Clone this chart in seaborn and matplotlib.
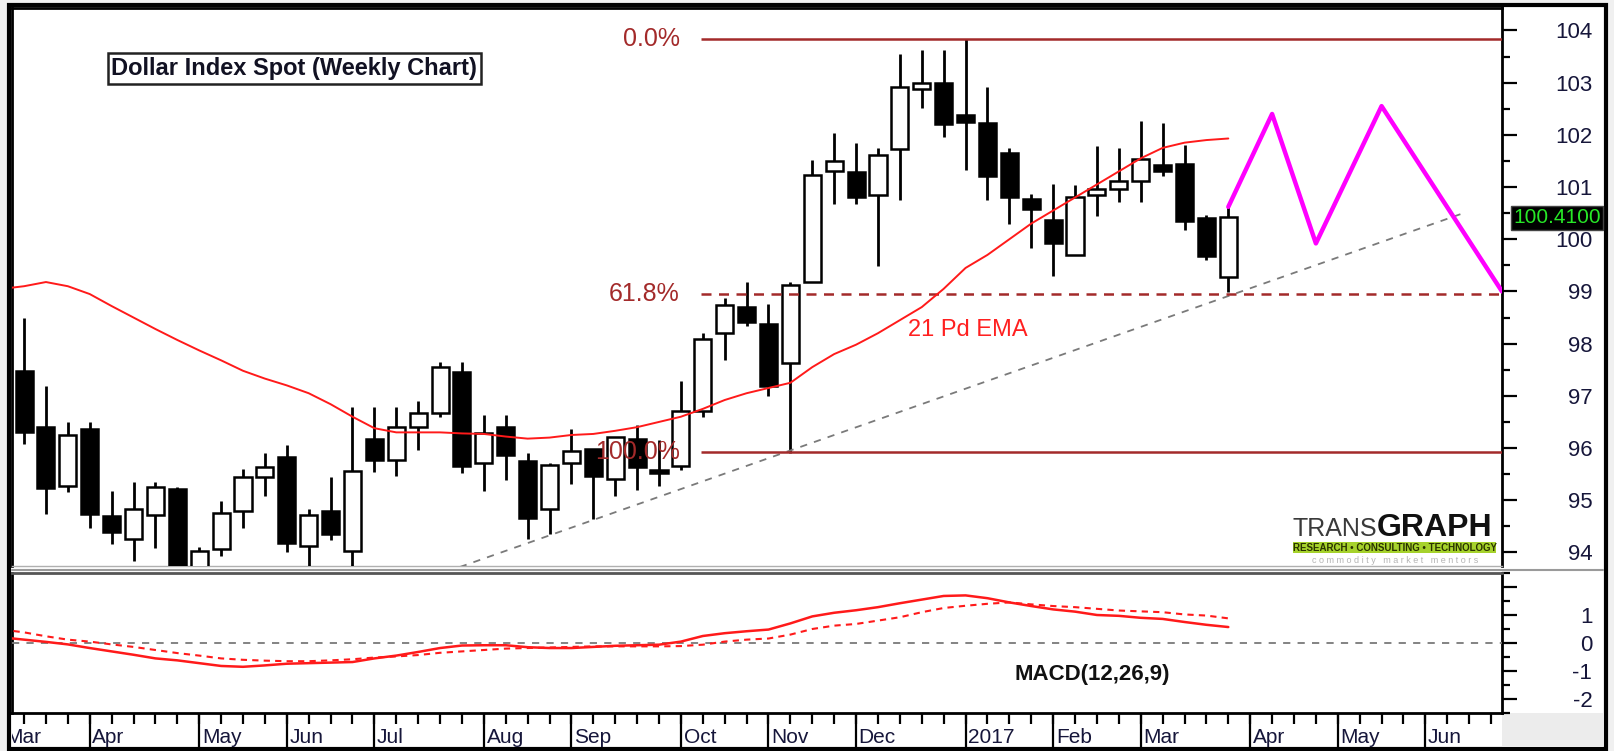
import numpy as np
import pandas as pd
import matplotlib
matplotlib.use("Agg")
import matplotlib.pyplot as plt
import matplotlib.transforms as mtransforms
from matplotlib.patches import Rectangle
from matplotlib.lines import Line2D
from matplotlib.ticker import MultipleLocator
import seaborn as sns

sns.set_theme(style="white")
plt.rcParams["font.family"] = ["Liberation Sans", "DejaVu Sans"]

W, H = 1615, 751

# weekly candles, week 0 = 7 Mar 2016
opens = [97.48, 96.41, 95.28, 96.37, 94.69, 94.25, 94.71, 95.21, 93.05, 94.06,
         94.80, 95.44, 95.83, 94.13, 94.80, 94.02, 96.17, 95.77, 96.41, 96.67,
         97.45, 95.71, 96.41, 95.75, 94.83, 95.71, 95.98, 95.40, 96.17, 95.56,
         95.66, 96.70, 98.20, 98.71, 98.37, 97.62, 99.19, 101.31, 101.28, 100.85,
         101.72, 102.87, 103.00, 102.38, 102.23, 101.66, 100.77, 100.36, 99.69, 100.85,
         100.96, 101.12, 101.42, 101.44, 100.40, 99.28]
highs = [98.49, 97.18, 96.49, 96.49, 95.18, 95.34, 95.34, 95.25, 94.11, 94.99,
         95.60, 95.91, 96.06, 94.83, 95.45, 96.79, 96.79, 96.79, 96.91, 97.64,
         97.64, 96.63, 96.63, 95.90, 95.71, 96.37, 95.98, 96.22, 96.44, 96.15,
         97.29, 98.21, 98.87, 99.19, 98.76, 99.19, 101.51, 102.04, 101.85, 101.74,
         103.55, 103.63, 103.63, 103.83, 102.92, 101.74, 100.86, 101.06, 101.04, 101.79,
         101.74, 102.27, 102.23, 101.81, 100.47, 100.61]
lows = [96.08, 94.73, 95.16, 94.46, 94.16, 93.83, 94.09, 92.98, 91.92, 93.93,
        94.46, 95.08, 94.00, 93.45, 94.24, 93.50, 95.54, 95.47, 95.96, 96.59,
        95.52, 95.17, 95.39, 94.25, 94.35, 95.31, 94.64, 95.08, 95.20, 95.27,
        95.58, 96.59, 97.69, 98.34, 97.00, 95.90, 99.19, 100.68, 100.68, 99.49,
        100.75, 102.51, 101.95, 101.33, 100.75, 100.29, 99.83, 99.30, 99.69, 100.45,
        100.72, 100.72, 101.22, 100.18, 99.60, 98.98]
closes = [96.31, 95.23, 96.25, 94.73, 94.39, 94.83, 95.25, 93.05, 94.03, 94.75,
          95.44, 95.63, 94.19, 94.71, 94.35, 95.56, 95.77, 96.40, 96.67, 97.55,
          95.66, 96.28, 95.86, 94.66, 95.68, 95.94, 95.47, 96.22, 95.63, 95.52,
          96.70, 98.08, 98.74, 98.42, 97.19, 99.12, 101.23, 101.50, 100.80, 101.62,
          102.92, 103.00, 102.21, 102.25, 101.22, 100.80, 100.57, 99.92, 100.80, 100.96,
          101.12, 101.53, 101.30, 100.35, 99.68, 100.42]
weeks = np.arange(len(closes))

# indicator lines start one week earlier (clipped at the left edge)
line_weeks = np.arange(-1, len(closes))
ema21 = [99.05, 99.10, 99.18, 99.10, 98.95, 98.72, 98.50, 98.28, 98.07, 97.87,
         97.68, 97.48, 97.33, 97.20, 97.05, 96.84, 96.60, 96.38, 96.30, 96.30,
         96.30, 96.28, 96.27, 96.22, 96.18, 96.20, 96.25, 96.27, 96.33, 96.40,
         96.50, 96.60, 96.75, 96.92, 97.05, 97.15, 97.25, 97.55, 97.80, 97.98,
         98.20, 98.45, 98.70, 99.05, 99.45, 99.70, 100.00, 100.30, 100.55, 100.80,
         101.05, 101.30, 101.55, 101.75, 101.85, 101.90, 101.93]
macd = [0.20, 0.12, 0.04, -0.05, -0.18, -0.30, -0.42, -0.55, -0.62, -0.72,
        -0.82, -0.85, -0.80, -0.74, -0.72, -0.70, -0.68, -0.55, -0.45, -0.32,
        -0.18, -0.09, -0.08, -0.08, -0.15, -0.18, -0.18, -0.14, -0.10, -0.08,
        -0.06, 0.05, 0.25, 0.35, 0.42, 0.48, 0.70, 0.95, 1.08, 1.17,
        1.28, 1.42, 1.55, 1.68, 1.70, 1.60, 1.45, 1.32, 1.20, 1.12,
        1.00, 0.97, 0.90, 0.86, 0.75, 0.65, 0.57]
signal = [0.48, 0.38, 0.24, 0.12, 0.05, -0.05, -0.14, -0.25, -0.36, -0.45,
          -0.55, -0.60, -0.63, -0.65, -0.65, -0.62, -0.58, -0.52, -0.48, -0.43,
          -0.35, -0.30, -0.25, -0.20, -0.18, -0.16, -0.14, -0.12, -0.12, -0.12,
          -0.12, -0.11, -0.06, 0.05, 0.12, 0.16, 0.30, 0.50, 0.62, 0.68,
          0.80, 0.92, 1.10, 1.25, 1.33, 1.40, 1.45, 1.38, 1.32, 1.28,
          1.22, 1.16, 1.13, 1.10, 1.02, 0.98, 0.88]

fib_levels = [103.84, 98.95, 95.93]
fib_labels = ["0.0%", "61.8%", "100.0%"]
fib_start = 30.9

proj_weeks = [55, 57, 59, 62, 67.5]
proj_prices = [100.62, 102.40, 99.92, 102.55, 99.00]

trend_weeks = [19.9, 65.6]
trend_prices = [93.72, 100.48]

month_weeks = [-1, 3, 8, 12, 16, 21, 25, 30, 34, 38, 43, 47, 51, 56, 60, 64]
month_labels = ["Mar", "Apr", "May", "Jun", "Jul", "Aug", "Sep", "Oct", "Nov",
                "Dec", "2017", "Feb", "Mar", "Apr", "May", "Jun"]

price_ticks = list(range(94, 105))
macd_ticks = [-2, -1, 0, 1, 2]
macd_ticklabels = ["-2", "-1", "0", "1", ""]
last_price = 100.41

XLIM = (-0.55, 67.5)
DARK_RED = "#a32a2a"
LABEL_C = "#16163a"


def box(x0, y0, x1, y1):
    return [x0 / W, 1 - y1 / H, (x1 - x0) / W, (y1 - y0) / H]


fig = plt.figure(figsize=(W / 100, H / 100), dpi=100, facecolor="#f0f0f0")
fig.patches.append(Rectangle((9 / W, 1 - 749 / H), 1597 / W, 744 / H,
                             transform=fig.transFigure, facecolor="white",
                             edgecolor="black", lw=3, zorder=-2))
fig.patches.append(Rectangle((1502 / W, 1 - 747 / H), 101 / W, 34 / H,
                             transform=fig.transFigure, facecolor="#ececec",
                             edgecolor="none", zorder=-1))
fig.lines.append(Line2D([12 / W, 1603 / W], [1 - 570 / H, 1 - 570 / H],
                        transform=fig.transFigure, color="#9a9a9a", lw=1.5))

ax = fig.add_axes(box(12, 8, 1502, 566))
ax_m = fig.add_axes(box(12, 573, 1502, 713))
ax_d = fig.add_axes(box(12, 713, 1502, 748))

# ---- price panel ----
df = pd.DataFrame({"week": weeks, "open": opens, "high": highs,
                   "low": lows, "close": closes})
up = df["close"] >= df["open"]
body_lo = df[["open", "close"]].min(axis=1)
body_h = (df["close"] - df["open"]).abs().clip(lower=0.05)

ax.vlines(df["week"], df["low"], df["high"], color="black", lw=2, zorder=3)
ax.bar(df["week"], body_h, bottom=body_lo, width=0.78,
       color=np.where(up, "white", "black"), edgecolor="black", lw=1.8, zorder=4)

ax.plot(trend_weeks, trend_prices, color="#7a7a7a", lw=1.3, dashes=(4, 4), zorder=5)

ema_df = pd.DataFrame({"week": line_weeks, "ema": ema21})
sns.lineplot(data=ema_df, x="week", y="ema", ax=ax, color="#ff1a1a", lw=1.4,
             legend=False, zorder=6)

proj_df = pd.DataFrame({"week": proj_weeks, "price": proj_prices})
sns.lineplot(data=proj_df, x="week", y="price", ax=ax, color="#ff00ff", lw=3.2,
             sort=False, legend=False, zorder=7)

for lvl, lab, style in zip(fib_levels, fib_labels, ["-", (0, (4, 3)), "-"]):
    ax.hlines(lvl, fib_start, XLIM[1], color=DARK_RED, lw=1.8,
              linestyle=style, zorder=5)
    ax.text(fib_start - 0.95, lvl, lab, ha="right", va="center", fontsize=18,
            color=DARK_RED, zorder=8)

ax.text(43.1, 98.26, "21 Pd EMA", ha="center", va="center", fontsize=17,
        color="#ff2020", zorder=8)

ax.text(0.1893, 0.8916, "Dollar Index Spot (Weekly Chart)", transform=ax.transAxes,
        ha="center", va="center", fontsize=17, fontweight="bold", color="#111122",
        bbox=dict(boxstyle="square,pad=0.15", fc="white", ec="#222222", lw=1.8),
        zorder=9)

# logo
ax.text(0.8597, 0.0538, "TRANS", transform=ax.transAxes, ha="left", va="baseline",
        fontsize=18, color="#3a3a3a", zorder=9)
ax.text(0.9161, 0.0538, "GRAPH", transform=ax.transAxes, ha="left", va="baseline",
        fontsize=23, fontweight="bold", color="#111111", zorder=9)
ax.add_patch(Rectangle((0.8597, 0.0233), 0.1363, 0.0197, transform=ax.transAxes,
                       facecolor="#a6d22c", edgecolor="none", zorder=9))
ax.text(0.928, 0.0330, "RESEARCH \u2022 CONSULTING \u2022 TECHNOLOGY",
        transform=ax.transAxes, ha="center", va="center", fontsize=7,
        fontweight="bold", color="#2a3300", zorder=10)
ax.text(0.928, 0.0105, "c o m m o d i t y   m a r k e t   m e n t o r s",
        transform=ax.transAxes, ha="center", va="center", fontsize=6.5,
        color="#b5b5b5", zorder=10)

trans = mtransforms.blended_transform_factory(ax.transAxes, ax.transData)
ax.text(1.0075, last_price, f"{last_price:.4f}", transform=trans, ha="left",
        va="center", fontsize=15, color="#27e827", clip_on=False, zorder=20,
        bbox=dict(boxstyle="square,pad=0.12", fc="black", ec="#444444", lw=1))

ax.set_xlim(*XLIM)
ax.set_ylim(93.74, 104.43)
ax.set_xticks([])
ax.set_xlabel("")
ax.set_ylabel("")
ax.yaxis.tick_right()
ax.set_yticks(price_ticks)
ax.set_yticklabels([str(t) for t in price_ticks])
ax.yaxis.set_minor_locator(MultipleLocator(0.5))
ax.tick_params(axis="y", which="major", direction="out", length=11, width=1.6,
               color="black", pad=54, labelsize=16, labelcolor=LABEL_C,
               right=True, left=False)
ax.tick_params(axis="y", which="minor", direction="out", length=6, width=1.6,
               color="black", right=True, left=False)
plt.setp(ax.get_yticklabels(), ha="right")

for side in ["left", "top", "right"]:
    ax.spines[side].set_visible(True)
    ax.spines[side].set_color("black")
    ax.spines[side].set_linewidth(2)
ax.spines["bottom"].set_color("#b0b0b0")
ax.spines["bottom"].set_linewidth(1)

# ---- MACD panel ----
macd_df = pd.DataFrame({"week": line_weeks, "macd": macd, "signal": signal})
sns.lineplot(data=macd_df, x="week", y="macd", ax=ax_m, color="#ff1a1a", lw=1.8,
             legend=False, zorder=4)
sns.lineplot(data=macd_df, x="week", y="signal", ax=ax_m, color="#ff1a1a", lw=1.5,
             dashes=False, legend=False, zorder=4)
ax_m.lines[-1].set_dashes((3, 2.5))
ax_m.axhline(0, color="#7a7a7a", lw=1.3, dashes=(4, 4), zorder=3)
ax_m.text(48.8, -1.13, "MACD(12,26,9)", ha="center", va="center", fontsize=16,
          fontweight="bold", color="#111111")

ax_m.set_xlim(*XLIM)
ax_m.set_ylim(-2.5, 2.5)
ax_m.set_xticks([])
ax_m.set_xlabel("")
ax_m.set_ylabel("")
ax_m.yaxis.tick_right()
ax_m.set_yticks(macd_ticks)
ax_m.set_yticklabels(macd_ticklabels)
ax_m.yaxis.set_minor_locator(MultipleLocator(0.5))
ax_m.tick_params(axis="y", which="major", direction="out", length=11, width=1.6,
                 color="black", pad=54, labelsize=16, labelcolor=LABEL_C,
                 right=True, left=False)
ax_m.tick_params(axis="y", which="minor", direction="out", length=6, width=1.6,
                 color="black", right=True, left=False)
plt.setp(ax_m.get_yticklabels(), ha="right")
for side in ["left", "right", "bottom"]:
    ax_m.spines[side].set_color("black")
    ax_m.spines[side].set_linewidth(2)
ax_m.spines["top"].set_color("#555555")
ax_m.spines["top"].set_linewidth(2)

# ---- date strip ----
all_weeks = np.arange(int(np.floor(XLIM[0])), int(np.ceil(XLIM[1])) + 1)
ax_d.set_xlim(*XLIM)
ax_d.set_ylim(0, 1)
ax_d.set_axis_off()
ax_d.vlines(all_weeks, 0.68, 1, color="black", lw=1.6)
ax_d.vlines(month_weeks, 0, 1, color="black", lw=1.6)
for w, lab in zip(month_weeks, month_labels):
    ax_d.text(w + 0.12, 0.02, lab, ha="left", va="bottom", fontsize=15,
              color=LABEL_C, clip_on=True)

fig.savefig("out.png", dpi=100, facecolor=fig.get_facecolor())
